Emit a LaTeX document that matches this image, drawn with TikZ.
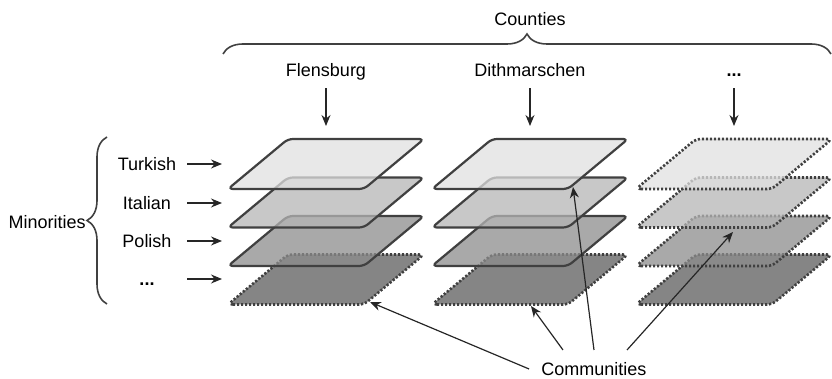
\documentclass[tikz,border=0pt]{standalone}
\usepackage{fontspec}
\setmainfont{Liberation Sans}
\usetikzlibrary{arrows.meta,decorations.pathreplacing}

\begin{document}
\begin{tikzpicture}[x=0.5pt,y=-0.5pt,
      font=\fontsize{9}{11}\selectfont,
      >={Stealth[length=5.5pt,width=4.5pt]},
      layer/.style={draw=black!75,line width=1.1pt,rounded corners=2.5pt,fill opacity=0.75},
      solidlayer/.style={layer},
      dotlayer/.style={layer,line width=1.3pt,dash pattern=on 1.1pt off 0.9pt},
      pointer/.style={->,line width=0.6pt,black!85},
      brc/.style={decorate,decoration={brace,amplitude=10pt},line width=0.8pt,black!75},
      county/.style={anchor=base,text depth=2pt},
      rowlbl/.style={text height=6.5pt,text depth=0pt}]
      \useasboundingbox (0,0) rectangle (832,379);
      % layers, lowest first
      \foreach \l/\tone in {4/black!64,3/black!45,2/black!29,1/black!12}{
          \foreach \c/\x in {1/228,2/432,3/636}{
              \pgfmathsetmacro\ty{139+38.5*(\l-1)}
              \ifnum\c=3 \def\lstyle{dotlayer}\else
                  \ifnum\l=4 \def\lstyle{dotlayer}\else\def\lstyle{solidlayer}\fi\fi
              \filldraw[\lstyle,fill=\tone] (\x,\ty+50) -- ++(136,0) -- ++(60,-50)
                  -- ++(-136,0) -- cycle;
          }
      }
      % counties
      \node (counties) at (530,19) {Counties};
      \draw[brc] (223,54) -- (831,54);
      \node[county] (flens) at (326,77) {Flensburg};
      \node[county] (dith) at (530,77) {Dithmarschen};
      \node[county] (morec) at (734,77) {\textbf{...}};
      \coordinate (cend) at (0,126);
      \foreach \n in {flens,dith,morec}
          \draw[pointer] (\n.south) -- (\n.south |- cend);
      % minorities
      \node[anchor=east,inner sep=0pt] (minor) at (86,222) {Minorities};
      \draw[brc] (107,304) -- (107,137);
      \node[rowlbl] (turk) at (147,164) {Turkish};
      \node[rowlbl] (ital) at (147,203) {Italian};
      \node[rowlbl] (pol) at (147,241) {Polish};
      \node[rowlbl] (morer) at (147,279) {\textbf{...}};
      \coordinate (rs) at (187,0);
      \coordinate (re) at (222,0);
      \foreach \n in {turk,ital,pol,morer}
          \draw[pointer] (rs |- \n) -- (re |- \n);
      % communities
      \node[inner sep=6pt] (comm) at (594,369) {Communities};
      \coordinate (t1) at (370,302);
      \coordinate (t2) at (531,306);
      \coordinate (t3) at (573,187);
      \coordinate (t4) at (733,232);
      \draw[pointer] (comm.west) -- (t1);
      \draw[pointer] ([xshift=-15.5pt]comm.north) -- (t2);
      \draw[pointer] (comm.north) -- (t3);
      \draw[pointer] ([xshift=16.5pt]comm.north) -- (t4);
\end{tikzpicture}
\end{document}
